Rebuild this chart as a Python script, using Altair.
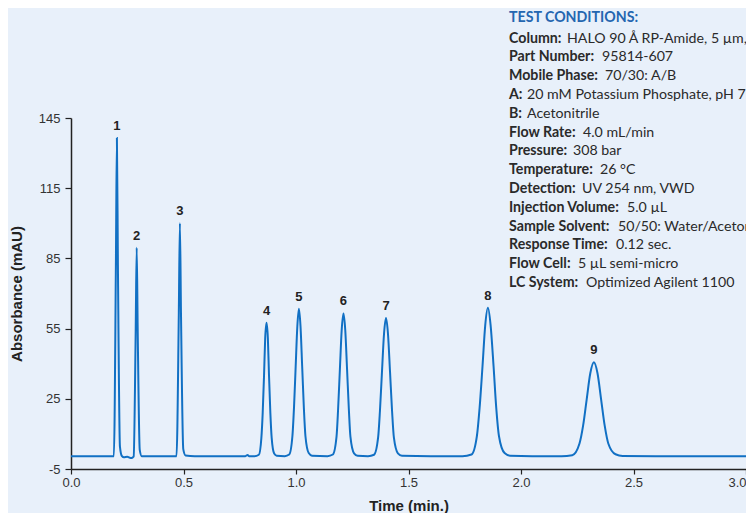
import altair as alt
import pandas as pd

# ---------------- data ----------------
time_min = [
    0.000, 0.100, 0.180,
    0.1905, 0.1995, 0.204, 0.2085, 0.2175, 0.2265,
    0.235, 0.250, 0.265, 0.275,
    0.2785, 0.2875, 0.292, 0.2965, 0.3055, 0.3145,
    0.400, 0.460,
    0.469, 0.479, 0.484, 0.489, 0.499, 0.509,
    0.550, 0.700, 0.775, 0.785, 0.792, 0.815,
    0.835, 0.846, 0.852, 0.858, 0.863, 0.869, 0.875, 0.880, 0.886, 0.892, 0.903, 0.914,
    0.950,
    0.970, 0.984, 0.991, 0.9985, 1.006, 1.013, 1.020, 1.0275, 1.035, 1.042, 1.0565, 1.071,
    1.140,
    1.164, 1.180, 1.187, 1.195, 1.203, 1.211, 1.219, 1.227, 1.235, 1.242, 1.258, 1.274,
    1.320,
    1.347, 1.365, 1.373, 1.382, 1.391, 1.400, 1.409, 1.418, 1.427, 1.435, 1.453, 1.471,
    1.600, 1.740,
    1.780, 1.804, 1.816, 1.829, 1.841, 1.853, 1.865, 1.878, 1.890, 1.902, 1.927, 1.951,
    2.050, 2.180,
    2.228, 2.260, 2.276, 2.292, 2.308, 2.324, 2.340, 2.356, 2.372, 2.388, 2.420, 2.452,
    2.600, 2.800, 3.000,
]
absorbance = [
    0.5, 0.5, 0.5,
    0.5, 82.1, 136.5, 82.1, 4.6, 0.5,
    0.0, 0.2, -0.3, 0.0,
    0.3, 53.9, 89.5, 53.9, 3.2, 0.5,
    0.5, 0.5,
    0.5, 60.2, 100.0, 60.2, 3.5, 0.8,
    0.5, 0.5, 0.5, 1.0, 0.5, 0.5,
    1.1, 8.2, 19.0, 35.1, 50.8, 57.5, 50.8, 35.1, 19.0, 8.2, 1.6, 0.7,
    0.5,
    1.2, 9.0, 21.0, 38.7, 56.1, 63.5, 56.1, 38.7, 21.0, 9.0, 1.8, 0.7,
    0.5,
    1.2, 8.7, 20.3, 37.5, 54.3, 61.5, 54.3, 37.5, 20.3, 8.7, 1.7, 0.7,
    0.5,
    1.1, 8.5, 19.7, 36.3, 52.5, 59.5, 52.5, 36.3, 19.7, 8.5, 1.7, 0.7,
    0.5, 0.5,
    1.2, 9.1, 21.1, 39.0, 56.4, 63.9, 56.4, 39.0, 21.1, 9.1, 1.8, 0.7,
    0.5, 0.5,
    0.9, 5.9, 13.5, 24.8, 35.9, 40.6, 35.9, 24.8, 13.5, 5.9, 1.3, 0.6,
    0.5, 0.5, 0.5,
]

peak_ids = ["1", "2", "3", "4", "5", "6", "7", "8", "9"]
peak_times = [0.204, 0.292, 0.484, 0.869, 1.013, 1.211, 1.400, 1.853, 2.324]
peak_heights = [136.5, 89.5, 100.0, 57.5, 63.5, 61.5, 59.5, 63.9, 40.6]

x_ticks = [0.0, 0.5, 1.0, 1.5, 2.0, 2.5, 3.0]
y_ticks = [-5, 25, 55, 85, 115, 145]

cond_title = "TEST CONDITIONS:"
cond_labels = [
    "Column:", "Part Number:", "Mobile Phase:", "A:", "B:", "Flow Rate:",
    "Pressure:", "Temperature:", "Detection:", "Injection Volume:",
    "Sample Solvent:", "Response Time:", "Flow Cell:", "LC System:",
]
cond_values = [
    "HALO 90 Å RP-Amide, 5 µm, 4.6 x 50 mm", "95814-607", "70/30: A/B",
    "20 mM Potassium Phosphate, pH 7", "Acetonitrile", "4.0 mL/min",
    "308 bar", "26 °C", "UV 254 nm, VWD", "5.0 µL",
    "50/50: Water/Acetonitrile", "0.12 sec.", "5 µL semi-micro",
    "Optimized Agilent 1100",
]

# ---------------- layout (pixels, relative to plot origin) ----------------
W, H = 675, 351
text_x = 438
title_y = -96
row_y0 = -75.5
row_step = 18.8
value_x = [496, 531, 534, 456, 456, 512, 502, 529, 511, 556, 547, 545, 507, 515]
COND_FONT_SIZE = 14.2

BG = "#E8F0FA"
LINE = "#1170C4"
DARK = "#222222"

trace = pd.DataFrame({"t": time_min, "a": absorbance})
peaks = pd.DataFrame({"id": peak_ids, "t": peak_times, "h": peak_heights})

x_enc = alt.X(
    "t:Q",
    scale=alt.Scale(domain=[0, 3], nice=False),
    axis=alt.Axis(
        values=x_ticks, format=".1f", title="Time (min.)",
        labelFlush=False, tickSize=5, labelPadding=2, titlePadding=9,
        labelAlign=alt.condition("datum.value >= 3", alt.value("right"), alt.value("center")),
    ),
)
y_enc = alt.Y(
    "a:Q",
    scale=alt.Scale(domain=[-5, 145], nice=False, zero=False),
    axis=alt.Axis(
        values=y_ticks, title="Absorbance (mAU)", labelExpr="toString(datum.value)",
        tickSize=6, labelPadding=5, titlePadding=14,
    ),
)

line = alt.Chart(trace).mark_line(
    color=LINE, strokeWidth=2, interpolate="monotone"
).encode(x=x_enc, y=y_enc)

labels = alt.Chart(peaks).mark_text(
    dy=-12, font="Liberation Sans", fontSize=13, fontWeight="bold", color=DARK
).encode(x=alt.X("t:Q"), y=alt.Y("h:Q"), text="id:N")

cond_df = pd.DataFrame({
    "row": list(range(len(cond_labels))),
    "label": cond_labels,
    "value": cond_values,
})

layers = [line, labels]
layers.append(
    alt.Chart(pd.DataFrame({"s": [cond_title]})).mark_text(
        align="left", baseline="alphabetic", font="Lato", fontSize=COND_FONT_SIZE,
        fontWeight="bold", color="#2466B0"
    ).encode(x=alt.value(text_x), y=alt.value(title_y), text="s:N")
)
for i in range(len(cond_labels)):
    yy = row_y0 + i * row_step
    sub = alt.Chart(cond_df).transform_filter(alt.datum.row == i)
    layers.append(
        sub.mark_text(align="left", baseline="alphabetic", font="Lato",
                      fontSize=COND_FONT_SIZE, fontWeight="bold", color="#2A2A2A")
        .encode(x=alt.value(text_x), y=alt.value(yy), text="label:N")
    )
    layers.append(
        sub.mark_text(align="left", baseline="alphabetic", font="Lato",
                      fontSize=COND_FONT_SIZE, color="#2A2A2A")
        .encode(x=alt.value(value_x[i]), y=alt.value(yy), text="value:N")
    )

chart = alt.layer(*layers).properties(
    width=W, height=H,
    padding={"left": 63, "top": 110, "right": 0, "bottom": 44},
    autosize=alt.AutoSizeParams(type="none"),
).configure(
    background=BG
).configure_view(
    stroke=None
).configure_axis(
    grid=False,
    labelFont="Liberation Sans", labelFontSize=13, labelColor="#333333",
    titleFont="Liberation Sans", titleFontSize=15, titleFontWeight="bold",
    titleColor=DARK,
    domainColor=DARK, domainWidth=1.5,
    tickColor=DARK, tickWidth=1.2,
)

chart.save("out.html", embed_options={"renderer": "svg", "actions": False})
